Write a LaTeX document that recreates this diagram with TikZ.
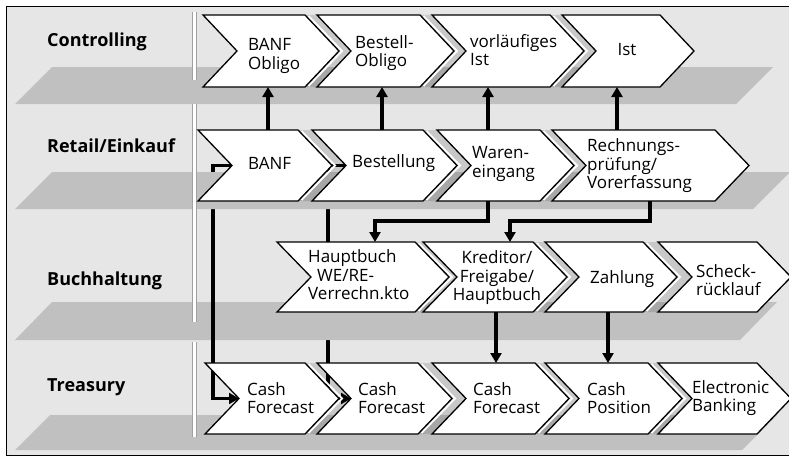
\documentclass[tikz,border=0pt]{standalone}
\usepackage{fontspec}
\setmainfont{Open Sans}
\usetikzlibrary{arrows.meta}
\definecolor{bg}{HTML}{E6E6E6}
\definecolor{bandc}{HTML}{C0C0C0}
\definecolor{vlc}{HTML}{A0A0A0}
\tikzset{
  chev/.style={draw=black, fill=white, line width=1.3pt, line join=miter},
  gapfill/.style={fill=black, fill opacity=0.13, draw=none},
  bandshape/.style={fill=bandc, draw=none},
  conn/.style={line width=3.5pt, draw=black, line join=miter},
  arr/.style={conn, -{Triangle[length=10pt,width=11pt]}},
  lane/.style={font=\fontsize{18}{20}\selectfont\bfseries, anchor=west, inner sep=0pt},
  ctext/.style={font=\fontsize{17}{18.5}\selectfont, align=left, anchor=west, inner sep=0pt},
  ctextc/.style={font=\fontsize{17}{18.5}\selectfont, align=center, inner sep=0pt},
}
\newcommand\mychev[5]{% name, L, R, T, B
  \draw[chev] (#2,#4) -- (#3,#4) -- (#3+34,{(#4+#5)/2}) -- (#3,#5) -- (#2,#5) -- (#2+34,{(#4+#5)/2}) -- cycle;
  \coordinate (#1-notch) at (#2+34,{(#4+#5)/2});
}
\newcommand\mygap[4]{% Rprev, L, T, B
  \fill[gapfill] (#1,#3) -- (#1+34,{(#3+#4)/2}) -- (#1,#4) -- (#2,#4) -- (#2+34,{(#3+#4)/2}) -- (#2,#3) -- cycle;
  \draw[white, line width=1.8pt] (#1+3.5,#3+1) -- (#1+37,{(#3+#4)/2}) -- (#1+3.5,#4-1);
}
\newcommand\myvl[2]{%
  \fill[white] (192,#1) rectangle (197,#2);
  \draw[vlc, line width=1pt] (192.5,#1) -- (192.5,#2) (196.5,#1) -- (196.5,#2);
}
\begin{document}
\begin{tikzpicture}[x=1pt,y=-1pt]
\useasboundingbox (0,0) rectangle (789,460);
\begin{scope}
\clip (0,0) rectangle (789,460);
\fill[white] (0,0) rectangle (789,460);
\draw[line width=1pt, fill=bg] (6.5,6.5) rectangle (810,455.5);

% named end points of connectors
\coordinate (banf-t) at (268,130);   \coordinate (banfob-b) at (268,87);
\coordinate (best-t) at (382,130);   \coordinate (bestob-b) at (382,87);
\coordinate (we-t) at (488,130);     \coordinate (vist-b) at (488,87);
\coordinate (rp-t) at (617,130);     \coordinate (ist-b) at (617,87);
\coordinate (we-b) at (488,201);     \coordinate (hb-t) at (375,242);
\coordinate (rp-b) at (650,201);     \coordinate (kr-t) at (510,242);
\coordinate (kr-b) at (496,312);     \coordinate (cf3-t) at (496,363);
\coordinate (za-b) at (608,312);     \coordinate (cp-t) at (608,363);
\coordinate (re1-notch) at (232,165.5);
\coordinate (re2-notch) at (346,165.5);
\coordinate (tr1-notch) at (239,398.5);
\coordinate (tr2-notch) at (351,398.5);

% connector Bestellung -> Cash Forecast (behind bands)
\draw[arr] (re2-notch) -- ++(-18,0) |- (tr2-notch);

% bands
\fill[bandshape] (52,302) -- (777,302) -- (740,340) -- (15,340) -- cycle;
% connector BANF -> Cash Forecast
\draw[arr] (re1-notch) -- ++(-19,0) |- (tr1-notch);
\fill[bandshape] (52,67) -- (773,67) -- (736,104) -- (15,104) -- cycle;
\fill[bandshape] (52,172) -- (790,172) -- (753,209) -- (15,209) -- cycle;
\fill[bandshape] (50,415) -- (777,415) -- (742,450) -- (15,450) -- cycle;

% vertical double line
\myvl{12}{80}
\myvl{104}{322}
\myvl{342}{437}

% gaps between chevrons
\mygap{305}{317}{15}{87}
\mygap{420}{432}{15}{87}
\mygap{550}{562}{15}{87}
\mygap{298}{312}{130}{201}
\mygap{423}{437}{130}{201}
\mygap{540}{552}{130}{201}
\mygap{415}{423}{242}{312}
\mygap{533}{545}{242}{312}
\mygap{643}{658}{242}{312}
\mygap{305}{317}{363}{434}
\mygap{418}{432}{363}{434}
\mygap{535}{545}{363}{434}
\mygap{648}{658}{363}{434}

% chevrons
\mychev{co1}{203}{305}{15}{87}
\mychev{co2}{317}{420}{15}{87}
\mychev{co3}{432}{550}{15}{87}
\mychev{co4}{562}{660}{15}{87}
\mychev{re1}{198}{298}{130}{201}
\mychev{re2}{312}{423}{130}{201}
\mychev{re3}{437}{540}{130}{201}
\mychev{re4}{552}{715}{130}{201}
\mychev{bu1}{277}{415}{242}{312}
\mychev{bu2}{423}{533}{242}{312}
\mychev{bu3}{545}{643}{242}{312}
\mychev{bu4}{658}{757}{242}{312}
\mychev{tr1}{205}{305}{363}{434}
\mychev{tr2}{317}{418}{363}{434}
\mychev{tr3}{432}{535}{363}{434}
\mychev{tr4}{545}{648}{363}{434}
\mychev{tr5}{658}{757}{363}{434}

% connectors
\draw[arr] (banf-t) -- (banfob-b);
\draw[arr] (best-t) -- (bestob-b);
\draw[arr] (we-t) -- (vist-b);
\draw[arr] (rp-t) -- (ist-b);
\draw[arr] (we-b) -- ++(0,20) -| (hb-t);
\draw[arr] (rp-b) -- ++(0,20) -| (kr-t);
\draw[arr] (kr-b) -- (cf3-t);
\draw[arr] (za-b) -- (cp-t);

% lane labels
\node[lane] (lcontr) at (47,42) {Controlling};
\node[lane] (lretail) at (47,146) {Retail/Einkauf};
\node[lane] (lbuch) at (47,281) {Buchhaltung};
\node[lane] (ltreas) at (47,387) {Treasury};

% chevron texts
\node[ctext] (tco1) at (248,56) {BANF\\Obligo};
\node[ctext] (tco2) at (355,53) {Bestell-\\Obligo};
\node[ctext] (tco3) at (470,50) {vorläufiges\\Ist};
\node[ctextc] (tco4) at (627,50) {Ist};
\node[ctext] (tre1) at (248,163) {BANF};
\node[ctext] (tre2) at (352,163) {Bestellung};
\node[ctext] (tre3) at (472,164) {Waren-\\eingang};
\node[ctext] (tre4) at (587,166) {Rechnungs-\\prüfung/\\Vorerfassung};
\node[ctext] (tbu1) at (308,275) {Hauptbuch\\\hspace*{9pt}WE/RE-\\Verrechn.kto};
\node[ctextc] (tbu2) at (497,278) {Kreditor/\\Freigabe/\\Hauptbuch};
\node[ctext] (tbu3) at (590,279) {Zahlung};
\node[ctext] (tbu4) at (696,280) {Scheck-\\rücklauf};
\node[ctext] (ttr1) at (247,398) {Cash\\Forecast};
\node[ctext] (ttr2) at (358,398) {Cash\\Forecast};
\node[ctext] (ttr3) at (473,398) {Cash\\Forecast};
\node[ctext] (ttr4) at (587,398) {Cash\\Position};
\node[ctext] (ttr5) at (692,398) {Electronic\\Banking};
\end{scope}
\end{tikzpicture}
\end{document}
